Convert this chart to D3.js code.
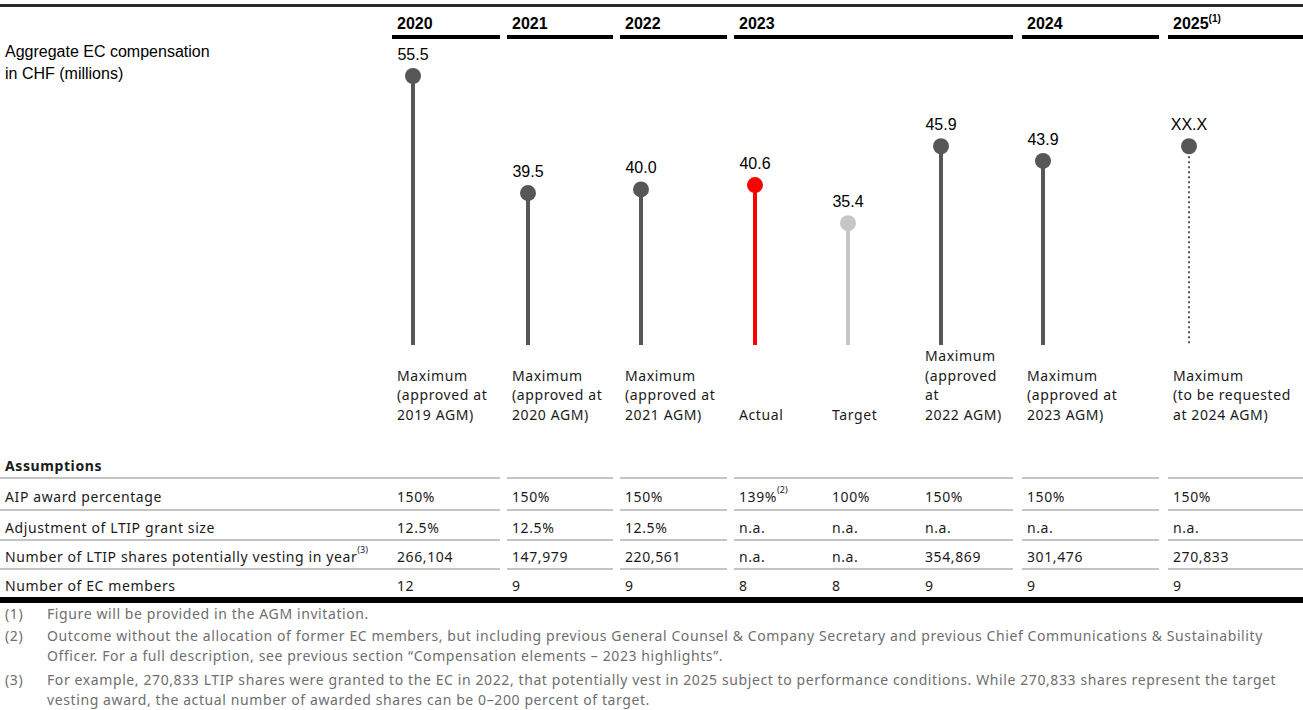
<!DOCTYPE html>
<html>
<head>
<meta charset="utf-8">
<script src="https://cdn.jsdelivr.net/npm/d3@7"></script>
<style>
  body { margin: 0; background: #fff; }
</style>
</head>
<body>
<div id="chart"></div>
<script>
// Data
const years = ['2020', '2021', '2022', '2023', '2024', '2025']
const columns = ['2020', '2021', '2022', '2023a', '2023t', '2023m', '2024', '2025']
const columnYear = ['2020', '2021', '2022', '2023', '2023', '2023', '2024', '2025']
const values = [55.5, 39.5, 40.0, 40.6, 35.4, 45.9, 43.9, 45.9]   // 2025 is a placeholder, drawn at 2024-AGM level
const valueLabels = ['55.5', '39.5', '40.0', '40.6', '35.4', '45.9', '43.9', 'XX.X']
const kinds = ['max', 'max', 'max', 'actual', 'target', 'max', 'max', 'requested']
const captions = [
  ['Maximum', '(approved at', '2019 AGM)'],
  ['Maximum', '(approved at', '2020 AGM)'],
  ['Maximum', '(approved at', '2021 AGM)'],
  ['Actual'],
  ['Target'],
  ['Maximum', '(approved', 'at', '2022 AGM)'],
  ['Maximum', '(approved at', '2023 AGM)'],
  ['Maximum', '(to be requested', 'at 2024 AGM)']
]
const rowLabels = ['AIP award percentage', 'Adjustment of LTIP grant size',
  'Number of LTIP shares potentially vesting in year', 'Number of EC members']
const aipPct = ['150%', '150%', '150%', '139%', '100%', '150%', '150%', '150%']
const ltipAdj = ['12.5%', '12.5%', '12.5%', 'n.a.', 'n.a.', 'n.a.', 'n.a.', 'n.a.']
const ltipShares = ['266,104', '147,979', '220,561', 'n.a.', 'n.a.', '354,869', '301,476', '270,833']
const ecMembers = ['12', '9', '9', '8', '8', '9', '9', '9']
const footnotes = [
  ['(1)', ['Figure will be provided in the AGM invitation.']],
  ['(2)', ['Outcome without the allocation of former EC members, but including previous General Counsel & Company Secretary and previous Chief Communications & Sustainability',
           'Officer. For a full description, see previous section \u201cCompensation elements \u2013 2023 highlights\u201d.']],
  ['(3)', ['For example, 270,833 LTIP shares were granted to the EC in 2022, that potentially vest in 2025 subject to performance conditions. While 270,833 shares represent the target',
           'vesting award, the actual number of awarded shares can be 0\u2013200 percent of target.']]
]

// Layout
const width = 1303, height = 710
const groupStart = [392, 507, 620, 734, 1022, 1168]
const groupEnd = [500, 613, 727, 1013, 1159, 1303]
const textFont = "'Noto Sans', sans-serif"
const headFont = "'Liberation Sans', Arial, sans-serif"
const spacing = '0.6px'
const colors = { max: '#575757', requested: '#575757', actual: '#ff0000', target: '#c6c6c6' }

const svg = d3.select('#chart')
  .append('svg')
  .attr('width', width)
  .attr('height', height)

// Scales
const groupX = d3.scaleOrdinal().domain(years).range(groupStart)
const groupX1 = d3.scaleOrdinal().domain(years).range(groupEnd)

// the 2023 group holds three sub columns
const sub2023 = d3.scaleBand()
  .domain(['2023a', '2023t', '2023m'])
  .range([groupX('2023'), groupX1('2023')])

const colX = (c, i) => {
  const y = columnYear[i]
  return y === '2023' ? sub2023(c) + 5 : groupX(y) + 5
}

const yScale = d3.scaleLinear()
  .domain([18.75, 55.5])
  .range([345, 76])

// Top rule
svg.append('rect').attr('x', 0).attr('y', 4).attr('width', width).attr('height', 3).attr('fill', '#2b2b2b')

// Year headers
const head = svg.append('g')
years.forEach(y => {
  head.append('rect')
    .attr('x', groupX(y)).attr('y', 35)
    .attr('width', groupX1(y) - groupX(y)).attr('height', 4)
    .attr('fill', '#000')
  const t = head.append('text')
    .attr('x', groupX(y) + 5).attr('y', 29)
    .attr('font-family', headFont).attr('font-weight', 'bold').attr('font-size', '16px')
    .attr('fill', '#000')
    .text(y)
  if (y === '2025') {
    t.append('tspan').attr('dy', -7).attr('font-size', '10px').text('(1)')
  }
})

// Left title
svg.append('text')
  .attr('x', 5).attr('y', 57)
  .attr('font-family', headFont).attr('font-size', '16px').attr('fill', '#000')
  .selectAll('tspan')
  .data(['Aggregate EC compensation', 'in CHF (millions)'])
  .join('tspan')
  .attr('x', 5)
  .attr('dy', (d, i) => i ? 22 : 0)
  .text(d => d)

// Lollipops
const pops = svg.append('g')
columns.forEach((c, i) => {
  const cx = colX(c, i) + 16
  const k = kinds[i]
  const line = pops.append('line')
    .attr('x1', cx).attr('x2', cx)
    .attr('y1', yScale(values[i])).attr('y2', yScale.range()[0])
    .attr('stroke', colors[k])
  if (k === 'requested') {
    line.attr('stroke-width', 2).attr('stroke-dasharray', '2,3')
  } else {
    line.attr('stroke-width', 4)
  }
  pops.append('circle')
    .attr('cx', cx).attr('cy', yScale(values[i]))
    .attr('r', 8)
    .attr('fill', colors[k])
  pops.append('text')
    .attr('x', cx).attr('y', yScale(values[i]) - 16)
    .attr('text-anchor', 'middle')
    .attr('font-family', headFont).attr('font-size', '16px').attr('fill', '#000')
    .text(valueLabels[i])

  // caption under each stem, bottom aligned
  const lines = captions[i]
  pops.append('text')
    .attr('font-family', textFont).attr('font-size', '14px').attr('fill', '#1a1a1a')
    .attr('letter-spacing', spacing)
    .selectAll('tspan')
    .data(lines)
    .join('tspan')
    .attr('x', colX(c, i))
    .attr('y', (d, j) => 420 - (lines.length - 1 - j) * 19.7)
    .text(d => d)
})

// Assumption table
const rowY = [497, 528, 557, 586]
const ruleY = [478, 510, 540, 569]
const table = svg.append('g')
  .attr('font-family', textFont).attr('font-size', '14px').attr('fill', '#1a1a1a')
  .attr('letter-spacing', spacing)

table.append('text')
  .attr('x', 5).attr('y', 471)
  .attr('font-weight', 'bold')
  .text('Assumptions')

// dotted grey rules, broken between year groups
const ruleStart = [0].concat(groupStart.slice(1))
ruleY.forEach(ry => {
  ruleStart.forEach((x0, i) => {
    table.append('rect')
      .attr('x', x0).attr('y', ry - 1)
      .attr('width', groupEnd[i] - x0).attr('height', 2)
      .attr('fill', '#c4c4c4')
  })
})

const rows = [aipPct, ltipAdj, ltipShares, ecMembers]
rows.forEach((row, r) => {
  const lt = table.append('text')
    .attr('x', 5).attr('y', rowY[r] + 5)
    .text(rowLabels[r])
  if (r === 2) {
    lt.append('tspan').attr('dy', -9).attr('font-size', '9px').attr('letter-spacing', '0px').text('(3)')
  }
  row.forEach((v, i) => {
    const t = table.append('text')
      .attr('x', colX(columns[i], i)).attr('y', rowY[r] + 5)
      .text(v)
    if (r === 0 && columns[i] === '2023a') {
      t.append('tspan').attr('dy', -9).attr('font-size', '9px').attr('letter-spacing', '0px').text('(2)')
    }
  })
})

// Thick bottom rule
svg.append('rect').attr('x', 0).attr('y', 597).attr('width', width).attr('height', 6).attr('fill', '#000')

// Footnotes
const notes = svg.append('g')
  .attr('font-family', textFont).attr('font-size', '14px').attr('fill', '#6e6e6e')
  .attr('letter-spacing', spacing)
const noteY = [[619], [641, 661], [685, 705]]
footnotes.forEach((f, i) => {
  notes.append('text').attr('x', 5).attr('y', noteY[i][0]).text(f[0])
  f[1].forEach((line, j) => {
    notes.append('text').attr('x', 47).attr('y', noteY[i][j]).text(line)
  })
})
</script>
</body>
</html>
